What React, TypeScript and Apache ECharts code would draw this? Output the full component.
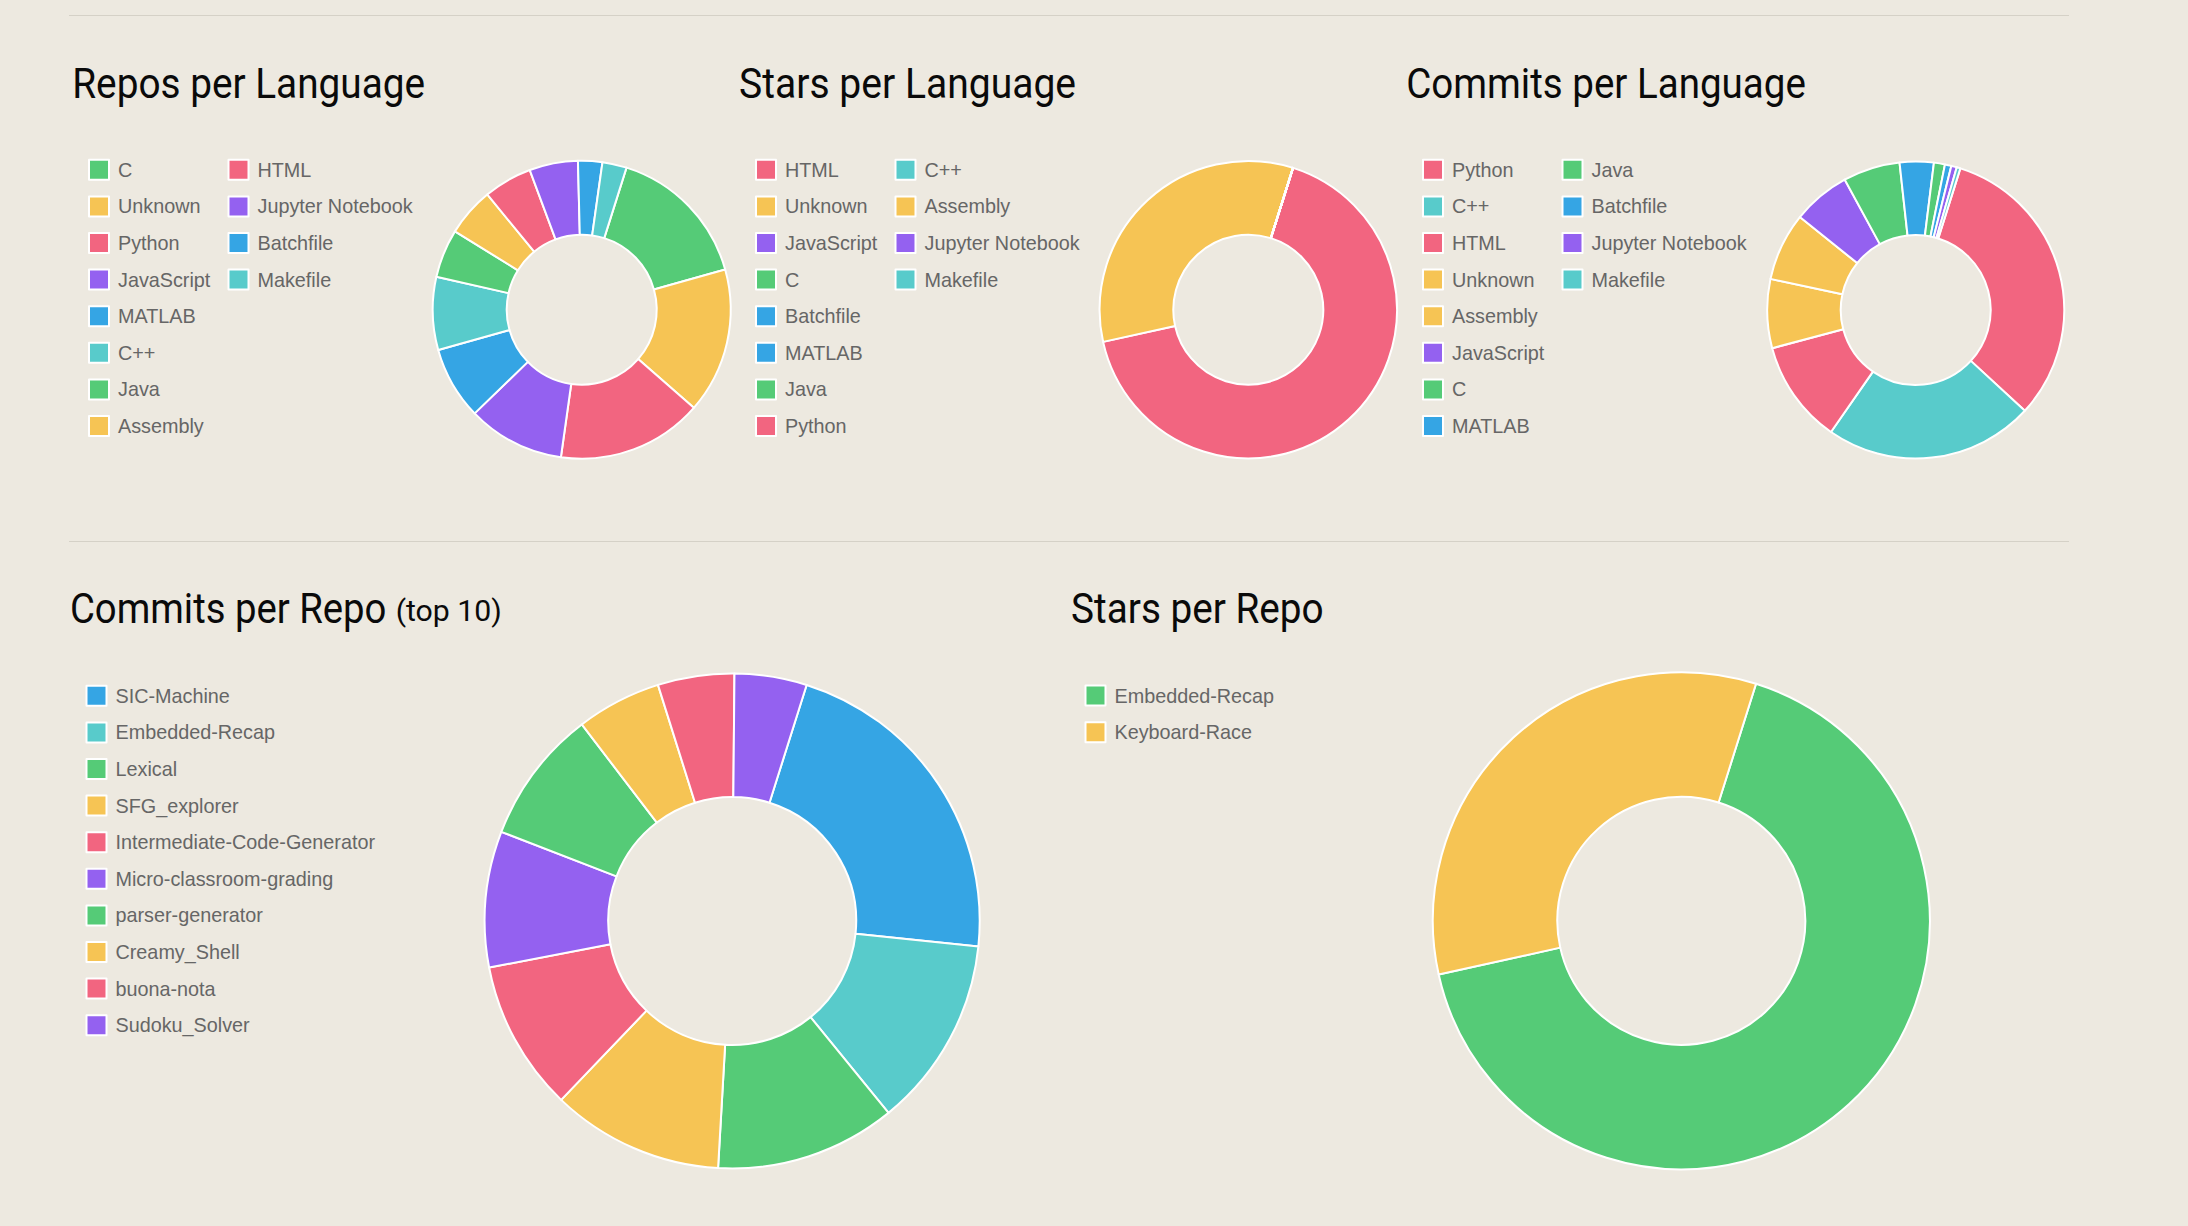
import React, { useEffect, useRef } from "react";
import * as echarts from "echarts";

// ---------- data ----------
const repoLangNames = ["C", "Unknown", "Python", "JavaScript", "MATLAB", "C++", "Java", "Assembly", "HTML", "Jupyter Notebook", "Batchfile", "Makefile"];
const repoLangCounts = [6, 6, 6, 4, 3, 3, 2, 2, 2, 2, 1, 1];

const starLangNames = ["HTML", "Unknown", "JavaScript", "C", "Batchfile", "MATLAB", "Java", "Python", "C++", "Assembly", "Jupyter Notebook", "Makefile"];
const starLangCounts = [2, 1, 0, 0, 0, 0, 0, 0, 0, 0, 0, 0];

const commitLangNames = ["Python", "C++", "HTML", "Unknown", "Assembly", "JavaScript", "C", "MATLAB", "Java", "Batchfile", "Jupyter Notebook", "Makefile"];
const commitLangCounts = [320, 228, 112, 75, 74, 63, 62, 37, 12, 7, 6, 4];

const topRepoNames = ["SIC-Machine", "Embedded-Recap", "Lexical", "SFG_explorer", "Intermediate-Code-Generator", "Micro-classroom-grading", "parser-generator", "Creamy_Shell", "buona-nota", "Sudoku_Solver"];
const topRepoCommits = [157, 90, 85, 81, 71, 64, 63, 40, 36, 34];

const starRepoNames = ["Embedded-Recap", "Keyboard-Race"];
const starRepoCounts = [2, 1];

// ---------- styles ----------
const GREEN = "#55cb77";
const YELLOW = "#f6c454";
const PINK = "#f26580";
const PURPLE = "#9461f0";
const BLUE = "#35a5e4";
const TEAL = "#58cbcb";

const langColor: Record<string, string> = {
  C: GREEN, Java: GREEN,
  Unknown: YELLOW, Assembly: YELLOW,
  Python: PINK, HTML: PINK,
  JavaScript: PURPLE, "Jupyter Notebook": PURPLE,
  MATLAB: BLUE, Batchfile: BLUE,
  "C++": TEAL, Makefile: TEAL,
};
const topRepoColors = [BLUE, TEAL, GREEN, YELLOW, PINK, PURPLE, GREEN, YELLOW, PINK, PURPLE];
const starRepoColors = [GREEN, YELLOW];

const BG = "#ede9e0";
const W = 2188;
const H = 1226;
const START_ANGLE = 72.5;
const LEGEND_FONT = '"Liberation Sans", Arial, Helvetica, sans-serif';
const TITLE_FONT = "Roboto";

function pieSeries(names: string[], values: number[], colors: string[], cx: number, cy: number, rIn: number, rOut: number) {
  return {
    type: "pie",
    center: [cx, cy],
    radius: [rIn, rOut],
    startAngle: START_ANGLE,
    clockwise: true,
    silent: true,
    avoidLabelOverlap: false,
    label: { show: false },
    labelLine: { show: false },
    emphasis: { disabled: true },
    itemStyle: { borderColor: "#ffffff", borderWidth: 2 },
    data: names.map((n, i) => ({ name: n, value: values[i], itemStyle: { color: colors[i] } })),
  };
}

function legend(names: string[], colors: string[], left: number, top: number) {
  return {
    orient: "vertical",
    left,
    top,
    padding: 0,
    itemWidth: 20,
    itemHeight: 20,
    itemGap: 14.6,
    icon: "rect",
    selectedMode: false,
    itemStyle: { borderColor: "#ffffff", borderWidth: 2 },
    textStyle: {
      fontFamily: LEGEND_FONT,
      fontSize: 19.8,
      color: "#666666",
      lineHeight: 12,
      padding: [0, 0, 6, 4],
    },
    data: names.map((n, i) => ({ name: n, itemStyle: { color: colors[i], borderColor: "#ffffff", borderWidth: 2 } })),
  };
}

function titleText(text: string, inkLeft: number, baseline: number, fontSize: number, targetWidth: number) {
  let scaleX = 0.85;
  let abl = 0;
  try {
    const ctx = document.createElement("canvas").getContext("2d");
    if (ctx) {
      ctx.font = `${fontSize}px ${TITLE_FONT}`;
      const m = ctx.measureText(text);
      const ink = m.actualBoundingBoxRight + m.actualBoundingBoxLeft;
      if (ink > 0) {
        scaleX = targetWidth / ink;
        abl = m.actualBoundingBoxLeft;
      }
    }
  } catch (e) {
    // ignore
  }
  return {
    type: "text",
    x: inkLeft + abl * scaleX,
    y: baseline - 0.342 * fontSize,
    scaleX,
    silent: true,
    style: {
      text,
      fontFamily: TITLE_FONT,
      fontSize,
      fill: "#0a0a0a",
      verticalAlign: "middle",
      align: "left",
    },
  };
}

function split<T>(arr: T[], n: number): [T[], T[]] {
  return [arr.slice(0, n), arr.slice(n)];
}

export default function App() {
  const ref = useRef<HTMLDivElement>(null);

  useEffect(() => {
    document.body.style.margin = "0";
    document.body.style.background = BG;
    if (!ref.current) return;
    const chart = echarts.init(ref.current, undefined, { renderer: "svg", width: W, height: H });

    const repoColors = repoLangNames.map((n) => langColor[n]);
    const starColors = starLangNames.map((n) => langColor[n]);
    const commitColors = commitLangNames.map((n) => langColor[n]);

    const [r1a, r1b] = split(repoLangNames, 8);
    const [c1a, c1b] = split(repoColors, 8);
    const [r2a, r2b] = split(starLangNames, 8);
    const [c2a, c2b] = split(starColors, 8);
    const [r3a, r3b] = split(commitLangNames, 8);
    const [c3a, c3b] = split(commitColors, 8);

    const option: any = {
      animation: false,
      backgroundColor: BG,
      legend: [
        legend(r1a, c1a, 88, 158.8),
        legend(r1b, c1b, 227.5, 158.8),
        legend(r2a, c2a, 755, 158.8),
        legend(r2b, c2b, 894.5, 158.8),
        legend(r3a, c3a, 1422, 158.8),
        legend(r3b, c3b, 1561.5, 158.8),
        legend(topRepoNames, topRepoColors, 85.5, 684.8),
        legend(starRepoNames, starRepoColors, 1084.5, 684.6),
      ],
      series: [
        pieSeries(repoLangNames, repoLangCounts, repoColors, 581.7, 309.7, 75, 149),
        pieSeries(starLangNames, starLangCounts, starColors, 1248.3, 309.7, 75, 148.7),
        pieSeries(commitLangNames, commitLangCounts, commitColors, 1915.7, 310, 75, 148.5),
        pieSeries(topRepoNames, topRepoCommits, topRepoColors, 732.2, 921, 124, 247.5),
        pieSeries(starRepoNames, starRepoCounts, starRepoColors, 1681.3, 920.8, 124, 248.5),
      ],
      graphic: [
        { type: "line", silent: true, shape: { x1: 69, y1: 15.5, x2: 2069, y2: 15.5 }, style: { stroke: "#d5d1c7", lineWidth: 1 } },
        { type: "line", silent: true, shape: { x1: 69, y1: 541.5, x2: 2069, y2: 541.5 }, style: { stroke: "#d5d1c7", lineWidth: 1 } },
        titleText("Repos per Language", 75, 98, 42, 349),
        titleText("Stars per Language", 740, 98, 42, 335),
        titleText("Commits per Language", 1408, 98, 42, 397),
        titleText("Commits per Repo", 71.7, 623.5, 42, 314),
        titleText("(top 10)", 396.7, 621.5, 29, 104),
        titleText("Stars per Repo", 1072, 623.5, 42, 251),
      ],
    };
    chart.setOption(option);
    return () => {
      chart.dispose();
    };
  }, []);

  return (
    <div
      ref={ref}
      style={{ position: "absolute", left: 0, top: 0, width: W, height: H, background: BG }}
    />
  );
}
